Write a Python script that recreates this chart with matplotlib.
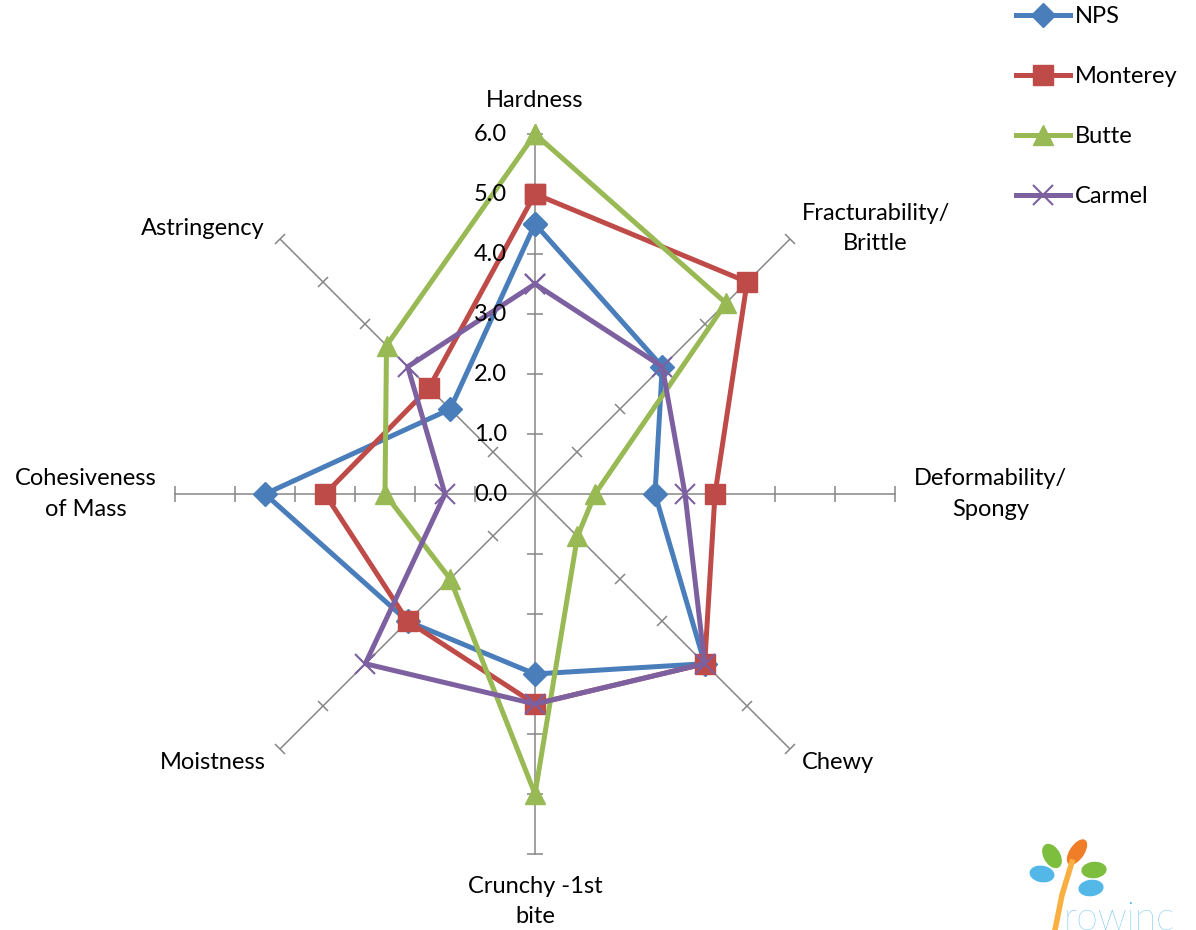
import numpy as np
import matplotlib
matplotlib.use("Agg")
import matplotlib.pyplot as plt
from matplotlib.markers import MarkerStyle
from matplotlib.transforms import Affine2D
from matplotlib.patches import Ellipse

categories = ["Hardness", "Fracturability/\nBrittle", "Deformability/\nSpongy", "Chewy",
              "Crunchy -1st\nbite", "Moistness", "Cohesiveness\nof Mass", "Astringency"]
nps = [4.5, 3.0, 2.0, 4.0, 3.0, 3.0, 4.5, 2.0]
monterey = [5.0, 5.0, 3.0, 4.0, 3.5, 3.0, 3.5, 2.5]
butte = [6.0, 4.5, 1.0, 1.0, 5.0, 2.0, 2.5, 3.5]
carmel = [3.5, 3.0, 2.5, 4.0, 3.5, 4.0, 1.5, 3.0]
series_names = ["NPS", "Monterey", "Butte", "Carmel"]
r_ticks = [0, 1, 2, 3, 4, 5, 6]

plt.rcParams['font.family'] = ['Lato', 'DejaVu Sans']
FS = 17

W, H = 1196, 930
fig = plt.figure(figsize=(W / 100, H / 100), dpi=100)
ax = fig.add_axes([175 / W, (H - 854) / H, 720 / W, 720 / H], projection='polar')
ax.set_theta_zero_location('N')
ax.set_theta_direction(-1)
ax.set_ylim(0, 6)
ax.set_xticks([])
ax.set_yticks([])
ax.grid(False)
ax.spines['polar'].set_visible(False)
ax.patch.set_visible(False)

n = len(categories)
angles = [i * 2 * np.pi / n for i in range(n)]
gray = '#868686'

# spokes with tick marks
for i, a in enumerate(angles):
    ax.plot([a, a], [0, r_ticks[-1]], color=gray, lw=1.1, zorder=1, clip_on=False)
    screen_deg = 90 - i * 360 / n
    m = MarkerStyle('_', transform=Affine2D().rotate_deg(screen_deg + 90))
    ax.plot([a] * (len(r_ticks) - 1), r_ticks[1:], linestyle='none', marker=m,
            markersize=11, markeredgecolor=gray, markeredgewidth=1.1, zorder=1, clip_on=False)

# radial labels
for r in r_ticks:
    ax.annotate(f"{r:.1f}", xy=(0, r), xytext=(-20, 0), textcoords='offset points',
                ha='right', va='center', fontsize=FS, color='black', zorder=5)

# category labels (offsets in points from spoke end)
offsets = [(0, 24), (62, 8), (69, 0), (35, -10), (0, -34), (-49, -10), (-64, 0), (-56, 8)]
for a, lab, off in zip(angles, categories, offsets):
    ax.annotate(lab, xy=(a, 6), xytext=off, textcoords='offset points',
                ha='center', va='center', multialignment='center',
                fontsize=FS, linespacing=1.55, annotation_clip=False)

styles = [
    (nps, '#4A7EBB', 'D', 12, 1),
    (monterey, '#BE4B48', 's', 14, 1),
    (butte, '#98B954', '^', 14, 1),
    (carmel, '#7D60A0', 'x', 14, 1.5),
]
th = angles + [angles[0]]
for (vals, col, mk, ms, mew), name in zip(styles, series_names):
    v = list(vals) + [vals[0]]
    ax.plot(th, v, color=col, lw=3.6, marker=mk, markersize=ms, markerfacecolor=col,
            markeredgecolor=col, markeredgewidth=mew, label=name, zorder=3, clip_on=False)

leg = fig.legend(loc='upper left', bbox_to_anchor=(1016 / W, 1 - 6 / H), frameon=False,
                 fontsize=FS, labelspacing=1.65, handlelength=2.3, handletextpad=0.2,
                 borderpad=0, borderaxespad=0)

# logo (decorative, bottom right)
def fx(x):
    return x / W

def fy(y):
    return 1 - y / H

leaves = [(1052, 856, 16, 24, 20, '#7DBE3F'), (1077, 852, 14, 26, -25, '#F07D28'),
          (1042, 874, 24, 15, -20, '#53B8E8'), (1094, 870, 24, 15, 10, '#7DBE3F'),
          (1091, 888, 24, 15, 15, '#53B8E8')]
for x, y, w, h, ang, c in leaves:
    fig.add_artist(Ellipse((fx(x), fy(y)), w / W, h / H, angle=ang, color=c,
                           transform=fig.transFigure))
fig.add_artist(plt.Line2D([fx(1072), fx(1062), fx(1055)], [fy(862), fy(895), fy(930)],
                          color='#F9B040', lw=4, transform=fig.transFigure))
fig.text(fx(1063), fy(937), "rowinc", fontsize=28, color='#53B8E8', ha='left', va='bottom',
         fontweight='light')

fig.savefig("out.png", dpi=100, facecolor='white')
